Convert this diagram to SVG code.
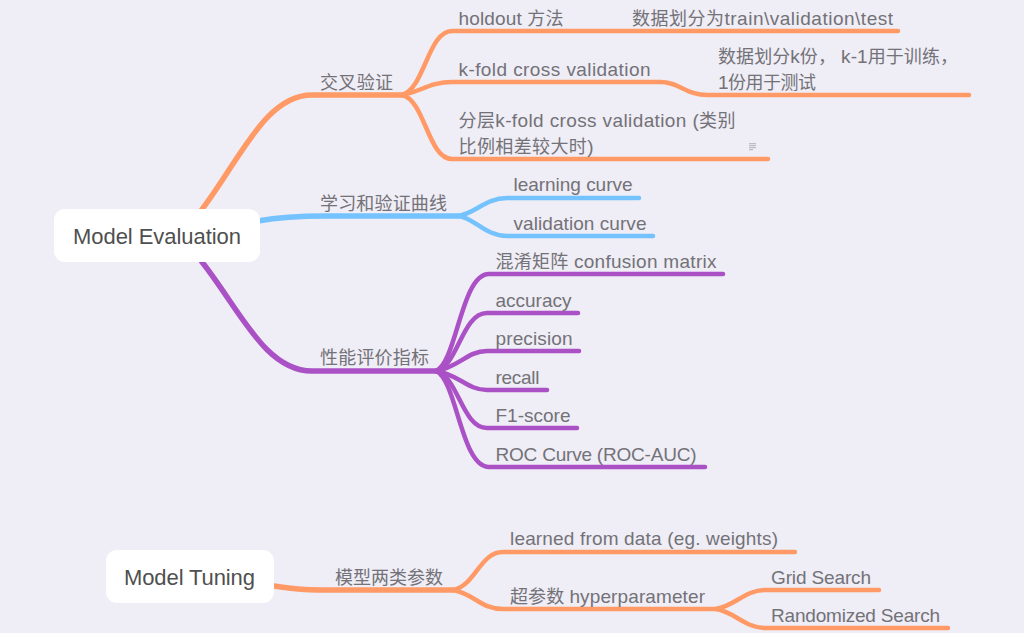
<svg xmlns="http://www.w3.org/2000/svg" width="1024" height="633" viewBox="0 0 1024 633">
<style>
text{font-family:"Liberation Sans","Noto Sans CJK SC",sans-serif;font-size:18px;fill:#737278}
.l{font-size:19px}
.root{font-size:22px;fill:#4f4f4f}
.c{fill:none;stroke-linecap:round;stroke-width:4.5}
.r{stroke-width:5.5}
.o{stroke:#ff9a66}.b{stroke:#74c3ff}.p{stroke:#ab51c6}
.box{fill:#fff}
</style>
<rect width="1024" height="633" fill="#efedf5"/>
<g id="connectors">
<path class="c r o" d="M200 212C240 160 265 95 312 95H402"/>
<path class="c o" d="M402 95C425 88 428 31 452 31H898"/>
<path class="c o" d="M402 95C420 92 430 82 452 82H660C680 82 685 95 708 95H969"/>
<path class="c o" d="M402 95C425 100 428 159 452 159H768"/>
<path class="c r b" d="M258 221C280 217 300 216 325 216H458"/>
<path class="c b" d="M458 216C475 214 485 198 507 198H639"/>
<path class="c b" d="M458 216C475 218 485 236 507 236H653"/>
<path class="c r p" d="M202 262C240 310 265 371 312 371H436"/>
<path class="c p" d="M436 371C457 362 461 274 489 274H723"/>
<path class="c p" d="M436 371C458 366 462 313 487 313H578"/>
<path class="c p" d="M436 371C458 368 467 351 487 351H579"/>
<path class="c p" d="M436 371C458 374 467 390 487 390H547"/>
<path class="c p" d="M436 371C458 376 462 428 487 428H577"/>
<path class="c p" d="M436 371C457 380 461 467 489 467H705"/>
<path class="c r o" d="M274 586C300 590 310 590 335 590H453"/>
<path class="c o" d="M453 590C475 586 480 552 503 552H795"/>
<path class="c o" d="M453 590C475 594 480 609 503 609H716"/>
<path class="c o" d="M716 609C735 606 745 590 765 590H879"/>
<path class="c o" d="M716 609C735 612 745 628 765 628H948"/>
</g>
<g id="model-evaluation"><rect class="box" x="54" y="209" width="206" height="53" rx="11"/><text class="root" x="73" y="244" textLength="168">Model Evaluation</text></g>
<g id="model-tuning"><rect class="box" x="106" y="550" width="168" height="53" rx="11"/><text class="root" x="124" y="585" textLength="131">Model Tuning</text></g>
<g id="cv"><text x="320" y="89" textLength="73">交叉验证</text></g>
<g id="holdout"><text x="458.5" y="25" textLength="105"><tspan class="l">holdout </tspan>方法</text></g>
<g id="holdout-note"><text x="632" y="25" textLength="261">数据划分为<tspan class="l">train\validation\test</tspan></text></g>
<g id="kfold"><text class="l" x="458.5" y="76" textLength="192">k-fold cross validation</text></g>
<g id="kfold-note"><text x="718" y="63" textLength="240">数据划分<tspan class="l">k</tspan>份， <tspan class="l">k-1</tspan>用于训练，</text><text x="718" y="89" textLength="98"><tspan class="l">1</tspan>份用于测试</text></g>
<g id="strat"><text x="458.5" y="127" textLength="277">分层<tspan class="l">k-fold cross validation (</tspan>类别</text><text x="458.5" y="153" textLength="135">比例相差较大时<tspan class="l">)</tspan></text>
<path d="M749 143.7h7M749 145.7h7M749 147.7h7M749 149.7h4" stroke="#8a898f" stroke-width=".6" fill="none"/></g>
<g id="curves"><text x="320" y="210" textLength="127">学习和验证曲线</text></g>
<g id="learning"><text class="l" x="513.5" y="191" textLength="119">learning curve</text></g>
<g id="validation"><text class="l" x="513.5" y="230" textLength="133">validation curve</text></g>
<g id="metrics"><text x="320" y="364" textLength="109">性能评价指标</text></g>
<g id="confusion"><text x="495.5" y="268" textLength="221">混淆矩阵 <tspan class="l">confusion matrix</tspan></text></g>
<g id="accuracy"><text class="l" x="495.5" y="307" textLength="76">accuracy</text></g>
<g id="precision"><text class="l" x="495.5" y="345" textLength="77">precision</text></g>
<g id="recall"><text class="l" x="495.5" y="384" textLength="44">recall</text></g>
<g id="f1"><text class="l" x="495.5" y="422" textLength="75">F1-score</text></g>
<g id="roc"><text class="l" x="495.5" y="461" textLength="201">ROC Curve (ROC-AUC)</text></g>
<g id="params"><text x="335" y="584" textLength="108">模型两类参数</text></g>
<g id="learned"><text class="l" x="510" y="545" textLength="268">learned from data (eg. weights)</text></g>
<g id="hyper"><text x="510" y="603" textLength="195">超参数 <tspan class="l">hyperparameter</tspan></text></g>
<g id="grid"><text class="l" x="771" y="584" textLength="100">Grid Search</text></g>
<g id="random"><text class="l" x="771" y="622" textLength="169">Randomized Search</text></g>
</svg>
